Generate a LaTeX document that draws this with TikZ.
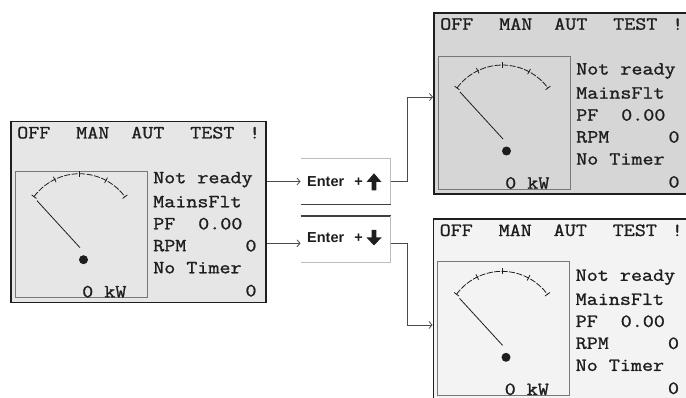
\documentclass[tikz,border=0pt]{standalone}
\usepackage{fontspec}
\setmonofont{Latin Modern Mono}[FakeStretch=1.16, FakeBold=1.2]
\setsansfont{Liberation Sans}
\usetikzlibrary{arrows.meta,calc}
\definecolor{bgA}{HTML}{E6E6E6}
\definecolor{bgB}{HTML}{D6D6D6}
\definecolor{bgC}{HTML}{F3F3F3}
\definecolor{ink}{HTML}{1E1E1E}
\definecolor{conncol}{HTML}{4A4A4A}
\definecolor{lightedge}{HTML}{BDBDBD}
\tikzset{
  lcd/.style={draw=ink, line width=1.6pt, minimum width=255pt, minimum height=181pt, inner sep=0pt, anchor=north west},
  gaugebox/.style={draw=ink!60, line width=0.9pt},
  gline/.style={draw=ink, line width=0.8pt},
  lcdtxt/.style={font=\fontsize{18.5}{20}\selectfont\ttfamily, text=ink, inner sep=0pt},
  btn/.style={fill=white, minimum width=90pt, minimum height=46pt, inner sep=0pt},
  btntxt/.style={font=\fontsize{14.5}{16}\selectfont\sffamily\bfseries, text=ink, inner sep=0pt},
  conn/.style={draw=conncol, line width=0.8pt},
  tip/.style={-{Straight Barb[length=3pt,width=7pt,line width=0.8pt]}}
}
\newcommand\lcdcontent[2]{%
  \draw[gaugebox] (5,#2) rectangle (137,177);
  \node[lcdtxt, anchor=west] (#1-off) at (7,12) {OFF};
  \node[lcdtxt, anchor=west] (#1-man) at (66,12) {MAN};
  \node[lcdtxt, anchor=west] (#1-aut) at (121,12) {AUT};
  \node[lcdtxt, anchor=west] (#1-test) at (180,12) {TEST};
  \node[lcdtxt, anchor=west] (#1-exc) at (239,12) {!};
  \node[lcdtxt, anchor=west] (#1-nr) at (143,59) {Not ready};
  \node[lcdtxt, anchor=west] (#1-mf) at (143,81) {MainsFlt};
  \node[lcdtxt, anchor=west] (#1-pf) at (143,103) {PF};
  \node[lcdtxt, anchor=west] (#1-pfv) at (188,103) {0.00};
  \node[lcdtxt, anchor=west] (#1-rpm) at (143,125) {RPM};
  \node[lcdtxt] (#1-rpmv) at (241,125) {0};
  \node[lcdtxt, anchor=west] (#1-nt) at (143,147) {No Timer};
  \node[lcdtxt] (#1-ntv) at (241,170) {0};
  \node[lcdtxt, anchor=west] (#1-kw) at (72,171) {0 kW};
  \draw[gline, dash pattern=on 6pt off 1.5pt] (24,76) arc[start angle=216.4, end angle=323.6, radius=56.5];
  \foreach \a in {216.4,244,270,298,323.6}{\draw[gline] (69.5,109.5) ++(\a:53.5) -- ++(\a:6);}
  \draw[gline] (27,80) -- (70,127);
  \fill[ink] (73.5,139) circle[radius=4.5];
}
\begin{document}
\begin{tikzpicture}[x=1pt,y=-1pt]
\useasboundingbox (0,0) rectangle (686,398);
\clip (0,0) rectangle (686,398);
\fill[white] (0,0) rectangle (686,398);
% displays
\node[lcd, fill=bgA] (L) at (10,120.7) {};
\node[lcd, fill=bgB] (R1) at (433,12) {};
\node[lcd, fill=bgC] (R2) at (432.5,218.3) {};
\begin{scope}[shift={(L.north west)}]\lcdcontent{L}{51}\end{scope}
\begin{scope}[shift={(R1.north west)}]\lcdcontent{Ra}{44}\end{scope}
\begin{scope}[shift={(R2.north west)}]\lcdcontent{Rb}{43.5}\end{scope}
% buttons
\node[btn] (B1) at (345.7,181.5) {};
\node[btn] (B2) at (345.7,239) {};
\draw[lightedge, line width=0.9pt] (B1.north west) -- (B1.north east) -- (B1.south east);
\draw[ink!85, line width=1.5pt] (B1.south west) -- (B1.south east);
\draw[ink!85, line width=1.5pt] (B2.north west) -- (B2.north east);
\draw[lightedge, line width=0.9pt] (B2.north east) -- (B2.south east) -- (B2.south west);
\node[btntxt, anchor=west] (B1t) at (307,182) {Enter\hspace{10pt}+};
\node[btntxt, anchor=west] (B2t) at (307,237.5) {Enter\hspace{10pt}+};
\fill[ink] (374,173.3) -- (381.5,182) -- (376.3,182) -- (376.3,190.5) -- (371.7,190.5) -- (371.7,182) -- (366.5,182) -- cycle;
\fill[ink] (374,245.5) -- (381.5,237.5) -- (376.3,237.5) -- (376.3,230) -- (371.7,230) -- (371.7,237.5) -- (366.5,237.5) -- cycle;
% connectors
\coordinate (a2) at ([yshift=-4.3pt]B2.west);
\coordinate (b2) at ([yshift=-4.3pt]B2.east);
\coordinate (k1) at (407.5,97);
\coordinate (k2) at (407.5,325);
\draw[conn, tip] (L.east |- B1.west) -- (B1.west);
\draw[conn, tip] (L.east |- a2) -- (a2);
\draw[conn, tip] (B1.east) -| (k1) -- (R1.west |- k1);
\draw[conn, tip] (b2) -| (k2) -- (R2.west |- k2);
\end{tikzpicture}
\end{document}
